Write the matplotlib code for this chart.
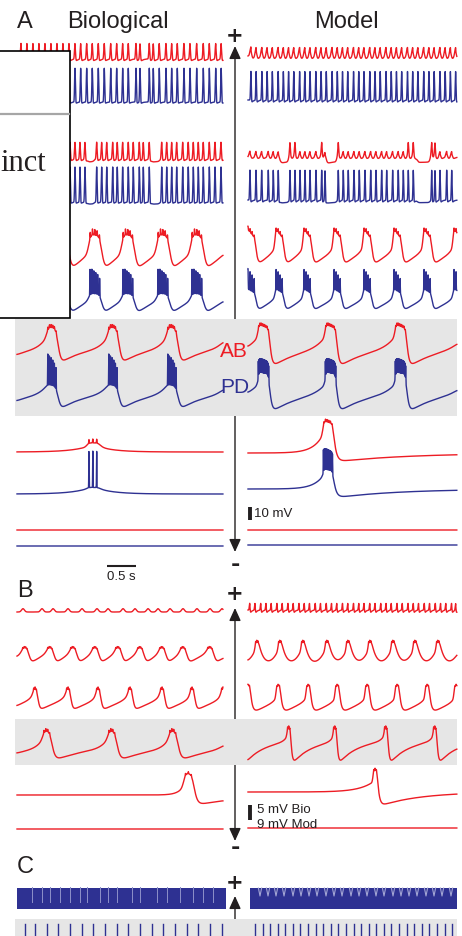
import numpy as np
import matplotlib
matplotlib.use("Agg")
import matplotlib.pyplot as plt
from matplotlib.patches import Rectangle

plt.rcParams["font.family"] = ["Liberation Sans", "DejaVu Sans"]

RED = "#ED1C24"
BLUE = "#2E3192"
INK = "#231F20"
BAND = "#E6E6E6"

# ----------------------------------------------------------------------
# Event times (s from sweep start)
# ----------------------------------------------------------------------
# Panel A, row 1 - tonic spiking
A1_BIO_SPIKES = [0.069, 0.172, 0.276, 0.379, 0.483, 0.586, 0.690, 0.793, 0.897,
                 1.000, 1.098, 1.202, 1.298, 1.402, 1.505, 1.616, 1.719, 1.822,
                 1.919, 2.052, 2.121, 2.281, 2.350, 2.453, 2.569, 2.667, 2.764,
                 2.879, 2.983, 3.098, 3.212, 3.316, 3.426, 3.520]
A1_MOD_SPIKES = [0.05, 0.14, 0.24, 0.33, 0.42, 0.52, 0.61, 0.70, 0.79, 0.89,
                 0.98, 1.07, 1.17, 1.26, 1.35, 1.45, 1.54, 1.63, 1.72, 1.82,
                 1.91, 2.00, 2.10, 2.19, 2.28, 2.38, 2.47, 2.56, 2.65, 2.75,
                 2.84, 2.93, 3.03, 3.12, 3.21, 3.31, 3.40, 3.49, 3.58]

# Panel A, row 2 - irregular spiking
A2_BIO_SPIKES = [0.069, 0.172, 0.276, 0.397, 0.500, 0.603, 0.707, 0.810, 0.914,
                 1.000, 1.086, 1.172, 1.374, 1.460, 1.547, 1.650, 1.729, 1.822,
                 1.919, 2.005, 2.109, 2.178, 2.281, 2.495, 2.581, 2.667, 2.753,
                 2.857, 2.953, 3.040, 3.126, 3.212, 3.316, 3.414, 3.517]
A2_BIO_PAUSE_ON = [1.22, 2.32]
A2_BIO_PAUSE_OFF = [1.33, 2.46]
A2_MOD_SPIKES = [0.034, 0.138, 0.236, 0.350, 0.436, 0.522, 0.724, 0.810, 0.897,
                 0.983, 1.069, 1.172, 1.271, 1.328, 1.557, 1.643, 1.729, 1.828,
                 1.919, 2.017, 2.116, 2.207, 2.305, 2.391, 2.494, 2.591, 2.678,
                 2.764, 2.850, 3.167, 3.224, 3.310, 3.426, 3.512]
A2_MOD_BIG = [0.724, 0.810, 1.271, 1.557, 2.764, 2.850, 3.167, 3.224]
A2_MOD_PAUSE_ON = [0.56, 1.36, 2.92]
A2_MOD_PAUSE_OFF = [0.70, 1.53, 3.14]

# Panel A, rows 3-5 - burst onsets
A3_BIO_ON = [-0.50, 0.086, 0.672, 1.241, 1.810, 2.414, 3.000, 3.590]
A3_MOD_ON = [-0.017, 0.466, 0.948, 1.466, 1.983, 2.500, 3.017, 3.534]
A4_BIO_ON = [-0.52, 0.517, 1.569, 2.586, 3.620]
A4_MOD_ON = [-1.00, 0.172, 1.328, 2.534, 3.720]
A5_BIO_ON = [1.207]
A5_MOD_ON = [1.293]

# Panel B - single neuron
B1_BIO_BUMPS = [0.103, 0.431, 0.621, 0.879, 1.121, 1.379, 1.569, 1.828, 2.034,
                2.259, 2.431, 2.638, 2.862, 3.103, 3.328, 3.534]
B1_MOD_SPIKES = [0.03, 0.12, 0.22, 0.31, 0.40, 0.50, 0.59, 0.69, 0.78, 0.88,
                 0.97, 1.06, 1.16, 1.25, 1.35, 1.44, 1.53, 1.63, 1.72, 1.82,
                 1.91, 2.00, 2.10, 2.19, 2.29, 2.38, 2.47, 2.57, 2.66, 2.76,
                 2.85, 2.94, 3.04, 3.13, 3.23, 3.32, 3.41, 3.51, 3.58]
B2_BIO_ON = [-0.31, 0.086, 0.517, 0.914, 1.293, 1.690, 2.069, 2.448, 2.810, 3.276, 3.670]
B2_MOD_ON = [-0.28, 0.121, 0.517, 0.914, 1.328, 1.690, 2.069, 2.466, 2.845, 3.241, 3.640]
B3_BIO_ON = [-0.28, 0.276, 0.845, 1.362, 1.914, 2.466, 2.983, 3.517]
B3_MOD_ON = [-0.034, 0.483, 1.000, 1.500, 2.017, 2.534, 3.052, 3.552]
B4_BIO_ON = [-0.60, 0.448, 1.569, 2.621, 3.650]
B4_MOD_ON = [-0.15, 0.672, 1.466, 2.345, 3.190]
B5_BIO_ON = [2.879]
B5_MOD_ON = [2.155]

# Panel C - fast tonic firing and spike rasters
C_BIO_SLOW = [0.259, 0.431, 0.569, 0.741, 0.914, 1.086, 1.207, 1.431, 1.569,
              1.724, 1.983, 2.121, 2.414, 2.586, 2.810, 3.034, 3.207, 3.379]
C_MOD_NOTCH = [0.207, 0.345, 0.483, 0.621, 0.776, 0.914, 1.052, 1.190, 1.345,
               1.483, 1.621, 1.776, 1.914, 2.052, 2.207, 2.345, 2.500, 2.638,
               2.776, 2.914, 3.069, 3.207, 3.345, 3.500]
C_BIO_RASTER = [0.138, 0.310, 0.517, 0.707, 0.914, 1.121, 1.310, 1.517, 1.724,
                1.914, 2.121, 2.328, 2.517, 2.724, 2.931, 3.121, 3.328, 3.534]
C_MOD_RASTER = [0.121, 0.252, 0.383, 0.512, 0.643, 0.774, 0.905, 1.036, 1.166,
                1.297, 1.428, 1.559, 1.688, 1.819, 1.950, 2.081, 2.212, 2.341,
                2.472, 2.603, 2.734, 2.866, 2.995, 3.126, 3.257, 3.388, 3.517]

# ----------------------------------------------------------------------
# Scales
# ----------------------------------------------------------------------
PX_PER_S = 58.0
X_BIO, X_MOD = 17.0, 248.0
T_BIO, T_MOD = 3.55, 3.60
DT = 0.001
MV_A = 1.3            # px per mV, panel A (10 mV bar)
MV_B_BIO = 3.0        # px per mV, panel B biological (5 mV bar)
MV_B_MOD = 15.0 / 9   # px per mV, panel B model (9 mV bar)

tb = np.arange(0.0, T_BIO + DT / 2, DT)
tm = np.arange(0.0, T_MOD + DT / 2, DT)


def gauss_smooth(v, sigma):
    if sigma <= 0:
        return v
    n = int(4 * sigma / DT)
    k = np.exp(-0.5 * (np.arange(-n, n + 1) * DT / sigma) ** 2)
    k /= k.sum()
    padded = np.concatenate([np.full(n, v[0]), v, np.full(n, v[-1])])
    return np.convolve(padded, k, mode="valid")


def spike_wave(t, times, amp, width, ahp=0.0, tau=0.03):
    v = np.zeros_like(t)
    for s in times:
        v += amp * np.exp(-((t - s) / width) ** 2)
        d = np.maximum(t - s, 0.0)
        v -= ahp * np.exp(-d / tau) * (1 - np.exp(-d / 0.004))
    return v


def pauses(t, starts, ends, depth):
    v = np.zeros_like(t)
    for a, b in zip(starts, ends):
        v -= depth * (1 / (1 + np.exp(-(t - a) / 0.012)) - 1 / (1 + np.exp(-(t - b) / 0.012)))
    return v


def burst_wave(t, onsets, dur, plateau, spk, nspk, droop=0.0, ahp=0.0,
               tau_ahp=0.2, tau_fall=0.03, ramp=0.0, pre=0.0, tau_pre=0.1,
               spk_w=0.005, spk_droop=0.3, smooth=0.02):
    on = np.asarray(onsets, float)
    off = on + dur
    i = np.searchsorted(on, t, side="right") - 1
    ip = np.clip(i, 0, len(on) - 1)
    has_prev = i >= 0
    inside = has_prev & (t < off[ip])
    since = np.maximum(t - off[ip], 0.0)
    nx = np.clip(i + 1, 0, len(on) - 1)
    has_next = (i + 1) < len(on)
    until = np.maximum(on[nx] - t, 0.0)
    end_level = plateau * (1 - droop)
    after = ((end_level + ahp) * np.exp(-since / tau_fall)
             - ahp * np.exp(-since / tau_ahp) + ramp * since)
    v = np.where(has_prev & ~inside, after, 0.0)
    v += np.where(has_next & ~inside, pre * np.exp(-until / tau_pre), 0.0)
    phase = np.clip((t - on[ip]) / dur, 0, 1)
    v += np.where(inside, plateau * (1 - droop * phase), 0.0)
    v = gauss_smooth(v, smooth)
    for s in on:
        for k in range(nspk):
            ts = s + (k + 0.5) * dur / nspk
            a = spk * (1 - spk_droop * k / max(nspk - 1, 1))
            v += a * np.exp(-((t - ts) / spk_w) ** 2)
    return v


fig = plt.figure(figsize=(4.62, 9.37), dpi=100)
ax = fig.add_axes([0, 0, 1, 1])
ax.set_xlim(0, 462)
ax.set_ylim(937, 0)
ax.axis("off")


def draw(side, y0, v, px_per_mv, color, lw=1.0):
    t = tb if side == "bio" else tm
    x0 = X_BIO if side == "bio" else X_MOD
    ax.plot(x0 + t * PX_PER_S, y0 - v * px_per_mv, color=color, lw=lw,
            zorder=3, solid_joinstyle="round")


# shaded rows
for top, h in [(320, 97), (720, 46), (920, 20)]:
    ax.add_patch(Rectangle((15, top), 442, h, facecolor=BAND, edgecolor="none", zorder=2))

# direction arrows
arrow_kw = dict(arrowstyle="<|-|>,head_length=0.55,head_width=0.25", lw=1.0,
                color=INK, shrinkA=0, shrinkB=0, mutation_scale=14)
ax.annotate("", xy=(235, 553), xytext=(235, 47), arrowprops=arrow_kw, zorder=1)
ax.annotate("", xy=(235, 842), xytext=(235, 609), arrowprops=arrow_kw, zorder=1)
ax.annotate("", xy=(235, 897), xytext=(235, 930),
            arrowprops=dict(arrow_kw, arrowstyle="-|>,head_length=0.55,head_width=0.25"),
            zorder=1)
for y in (35, 593, 882):
    ax.text(235, y + 7.5, "+", fontsize=15, fontweight="bold", family="DejaVu Sans",
            color=INK, ha="center", va="baseline", zorder=4)
for y in (565, 848):
    ax.text(235, y + 6.5, "-", fontsize=16, fontweight="bold", family="DejaVu Sans",
            color=INK, ha="center", va="baseline", zorder=4)

# ---------------- Panel A ----------------
# row 1
draw("bio", 60, spike_wave(tb, A1_BIO_SPIKES, 12, 0.012, 2.5, 0.035), MV_A, RED)
draw("bio", 103, spike_wave(tb, A1_BIO_SPIKES, 26, 0.010, 2.0, 0.03), MV_A, BLUE)
draw("mod", 57, spike_wave(tm, A1_MOD_SPIKES, 7, 0.022, 5.0, 0.04), MV_A, RED)
draw("mod", 101, spike_wave(tm, A1_MOD_SPIKES, 22, 0.009, 3.0, 0.03), MV_A, BLUE)
# row 2
draw("bio", 160, spike_wave(tb, A2_BIO_SPIKES, 13, 0.012, 2.5, 0.035)
     + pauses(tb, A2_BIO_PAUSE_ON, A2_BIO_PAUSE_OFF, 2.0), MV_A, RED)
draw("bio", 203, spike_wave(tb, A2_BIO_SPIKES, 27, 0.010, 2.0, 0.03)
     + pauses(tb, A2_BIO_PAUSE_ON, A2_BIO_PAUSE_OFF, 1.5), MV_A, BLUE)
draw("mod", 158, spike_wave(tm, A2_MOD_SPIKES, 4.5, 0.022, 3.0, 0.04)
     + spike_wave(tm, A2_MOD_BIG, 7, 0.01)
     + pauses(tm, A2_MOD_PAUSE_ON, A2_MOD_PAUSE_OFF, 4.0), MV_A, RED)
draw("mod", 201, spike_wave(tm, A2_MOD_SPIKES, 23, 0.009, 3.0, 0.03)
     + pauses(tm, A2_MOD_PAUSE_ON, A2_MOD_PAUSE_OFF, 2.0), MV_A, BLUE)
# row 3
draw("bio", 262, burst_wave(tb, A3_BIO_ON, 0.2, 21, 5, 5, droop=0.1, ahp=12,
                            tau_ahp=0.15, pre=8, tau_pre=0.14, smooth=0.03), MV_A, RED)
draw("bio", 307, burst_wave(tb, A3_BIO_ON, 0.2, 10, 20, 6, droop=0.1, ahp=10,
                            tau_ahp=0.15, pre=6, tau_pre=0.14, spk_w=0.004,
                            smooth=0.03), MV_A, BLUE)
draw("mod", 258, burst_wave(tm, A3_MOD_ON, 0.14, 22, 3, 4, droop=0.35, ahp=12,
                            tau_ahp=0.12, pre=8, tau_pre=0.1, smooth=0.015), MV_A, RED)
draw("mod", 305, burst_wave(tm, A3_MOD_ON, 0.14, 12, 16, 4, droop=0.3, ahp=10,
                            tau_ahp=0.12, pre=6, tau_pre=0.1, spk_w=0.004,
                            smooth=0.015), MV_A, BLUE)
# row 4
draw("bio", 352, burst_wave(tb, A4_BIO_ON, 0.17, 19, 2.5, 6, droop=0.1, ahp=12,
                            tau_ahp=0.3, ramp=2, pre=10, tau_pre=0.14, smooth=0.03),
     MV_A, RED)
draw("bio", 398, burst_wave(tb, A4_BIO_ON, 0.17, 10, 24, 6, droop=0.2, ahp=12,
                            tau_ahp=0.3, ramp=2, pre=8, tau_pre=0.14, spk_w=0.004,
                            smooth=0.03), MV_A, BLUE)
draw("mod", 355, burst_wave(tm, A4_MOD_ON, 0.19, 23, 2, 8, droop=0.15, ahp=12,
                            tau_ahp=0.35, ramp=4, pre=10, tau_pre=0.18, smooth=0.02),
     MV_A, RED)
draw("mod", 400, burst_wave(tm, A4_MOD_ON, 0.19, 18, 14, 16, droop=0.1, ahp=12,
                            tau_ahp=0.35, ramp=4, pre=8, tau_pre=0.18, spk_w=0.004,
                            spk_droop=0.1, smooth=0.02), MV_A, BLUE)
# row 5
draw("bio", 453, burst_wave(tb, A5_BIO_ON, 0.2, 7, 3, 3, ahp=-4, tau_ahp=0.3,
                            tau_fall=0.04, pre=4, tau_pre=0.3, spk_droop=0,
                            smooth=0.03), MV_A, RED)
draw("bio", 495, burst_wave(tb, A5_BIO_ON, 0.2, 5, 28, 3, ahp=-4, tau_ahp=0.3,
                            tau_fall=0.04, pre=4, tau_pre=0.3, spk_w=0.004,
                            spk_droop=0, smooth=0.03), MV_A, BLUE)
draw("mod", 454, burst_wave(tm, A5_MOD_ON, 0.17, 25, 2, 6, droop=0.1, ahp=7,
                            tau_ahp=1.3, tau_fall=0.04, pre=14, tau_pre=0.17,
                            smooth=0.02), MV_A, RED)
draw("mod", 490, burst_wave(tm, A5_MOD_ON, 0.17, 14, 18, 12, droop=0.1, ahp=7,
                            tau_ahp=1.1, tau_fall=0.04, pre=10, tau_pre=0.17,
                            spk_w=0.004, spk_droop=0.1, smooth=0.02), MV_A, BLUE)
# row 6 - silent
draw("bio", 531, np.zeros_like(tb), MV_A, RED)
draw("bio", 547, np.zeros_like(tb), MV_A, BLUE)
draw("mod", 531, np.zeros_like(tm), MV_A, RED)
draw("mod", 546, np.zeros_like(tm), MV_A, BLUE)

# ---------------- Panel B ----------------
draw("bio", 613, spike_wave(tb, B1_BIO_BUMPS, 1.1, 0.035), MV_B_BIO, RED)
draw("mod", 611, spike_wave(tm, B1_MOD_SPIKES, 4, 0.01, 3, 0.025), MV_B_MOD, RED)
draw("bio", 657, burst_wave(tb, B2_BIO_ON, 0.1, 2.8, 0.5, 4, ahp=4, tau_ahp=0.15,
                            ramp=0.5, pre=2, tau_pre=0.08, smooth=0.025), MV_B_BIO, RED)
draw("mod", 655, burst_wave(tm, B2_MOD_ON, 0.06, 7, 1.5, 3, ahp=24, tau_ahp=0.3,
                            tau_fall=0.12, pre=8, tau_pre=0.12, smooth=0.012),
     MV_B_MOD, RED)
draw("bio", 700, burst_wave(tb, B3_BIO_ON, 0.07, 3.5, 0.8, 3, ahp=4, tau_ahp=100,
                            tau_fall=0.02, ramp=8.5, pre=1.5, tau_pre=0.05,
                            smooth=0.02), MV_B_BIO, RED)
draw("mod", 700, burst_wave(tm, B3_MOD_ON, 0.07, 8, 1, 3, ahp=9, tau_ahp=100,
                            tau_fall=0.03, ramp=17, pre=2, tau_pre=0.05,
                            smooth=0.012), MV_B_MOD, RED)
draw("bio", 752, burst_wave(tb, B4_BIO_ON, 0.13, 7, 1, 4, droop=0.1, ahp=4,
                            tau_ahp=0.4, tau_fall=0.04, ramp=1, pre=3.5, tau_pre=0.12,
                            smooth=0.03), MV_B_BIO, RED)
draw("mod", 748, burst_wave(tm, B4_MOD_ON, 0.06, 11, 2, 3, ahp=12, tau_ahp=0.25,
                            tau_fall=0.02, ramp=5, pre=3, tau_pre=0.06,
                            smooth=0.012), MV_B_MOD, RED)
draw("bio", 796, burst_wave(tb, B5_BIO_ON, 0.15, 7.5, 0.8, 3, droop=0.1, ahp=3.7,
                            tau_ahp=0.8, tau_fall=0.04, pre=3, tau_pre=0.1,
                            smooth=0.03), MV_B_BIO, RED)
draw("mod", 793, burst_wave(tm, B5_MOD_ON, 0.07, 13, 1.5, 3, ahp=9, tau_ahp=0.7,
                            tau_fall=0.03, pre=6, tau_pre=0.25, smooth=0.012),
     MV_B_MOD, RED)
draw("bio", 830, np.zeros_like(tb), MV_B_BIO, RED)
draw("mod", 829, np.zeros_like(tm), MV_B_MOD, RED)

# ---------------- Panel C ----------------
ax.fill_between([X_BIO, X_BIO + 3.6 * PX_PER_S], 889, 910, color=BLUE, lw=0, zorder=3)
ax.fill_between([X_MOD + 0.03 * PX_PER_S, X_MOD + T_MOD * PX_PER_S], 889, 910,
                color=BLUE, lw=0, zorder=3)
for s in C_BIO_SLOW:
    x = X_BIO + s * PX_PER_S
    ax.plot([x, x], [888, 903], color="#8D90C9", lw=0.7, zorder=4)
for s in C_MOD_NOTCH:
    x = X_MOD + s * PX_PER_S
    ax.plot([x - 1.6, x, x + 1.6], [889, 897, 889], color="#A3A5D4", lw=0.8, zorder=4)
for s in C_BIO_RASTER:
    x = X_BIO + s * PX_PER_S
    ax.plot([x, x], [925, 937], color=BLUE, lw=1.0, zorder=3)
for s in C_MOD_RASTER:
    x = X_MOD + s * PX_PER_S
    ax.plot([x, x], [925, 937], color=BLUE, lw=1.0, zorder=3)

# ---------------- labels and scale bars ----------------
lab = dict(fontsize=17, color=INK, va="baseline", zorder=4)
ax.text(17, 28, "A", ha="left", **lab)
ax.text(67, 28, "Biological", ha="left", **lab)
ax.text(346, 28, "Model", ha="center", **lab)
ax.text(17, 597, "B", ha="left", **lab)
ax.text(17, 873, "C", ha="left", **lab)
ax.text(220, 357, "AB", fontsize=15, color=RED, ha="left", va="baseline", zorder=4)
ax.text(220, 393, "PD", fontsize=15, color=BLUE, ha="left", va="baseline", zorder=4)

ax.plot([249.5, 249.5], [521, 521 - 10 * MV_A], color=INK, lw=2.8,
        solid_capstyle="butt", zorder=4)
ax.text(254, 517, "10 mV", fontsize=9.5, color=INK, ha="left", va="baseline", zorder=4)
ax.plot([107, 107 + 0.5 * PX_PER_S], [567, 567], color=INK, lw=1.5,
        solid_capstyle="butt", zorder=4)
ax.text(107, 580, "0.5 s", fontsize=9.5, color=INK, ha="left", va="baseline", zorder=4)
ax.plot([249.5, 249.5], [821, 821 - 5 * MV_B_BIO], color=INK, lw=2.8,
        solid_capstyle="butt", zorder=4)
ax.text(257, 813, "5 mV Bio", fontsize=9.5, color=INK, ha="left", va="baseline", zorder=4)
ax.text(257, 828, "9 mV Mod", fontsize=9.5, color=INK, ha="left", va="baseline", zorder=4)

# ---------------- overlapping page clip ----------------
ax.add_patch(Rectangle((-2, 52), 72, 267, facecolor="white", edgecolor="black",
                       lw=1.2, zorder=5))
ax.plot([0, 69], [115, 115], color="#A6A6A6", lw=1.6, zorder=6)
ax.text(0, 171, "inct", fontsize=22, family="Liberation Serif", color=INK,
        ha="left", va="baseline", zorder=6)

fig.savefig("out.png", dpi=100)
